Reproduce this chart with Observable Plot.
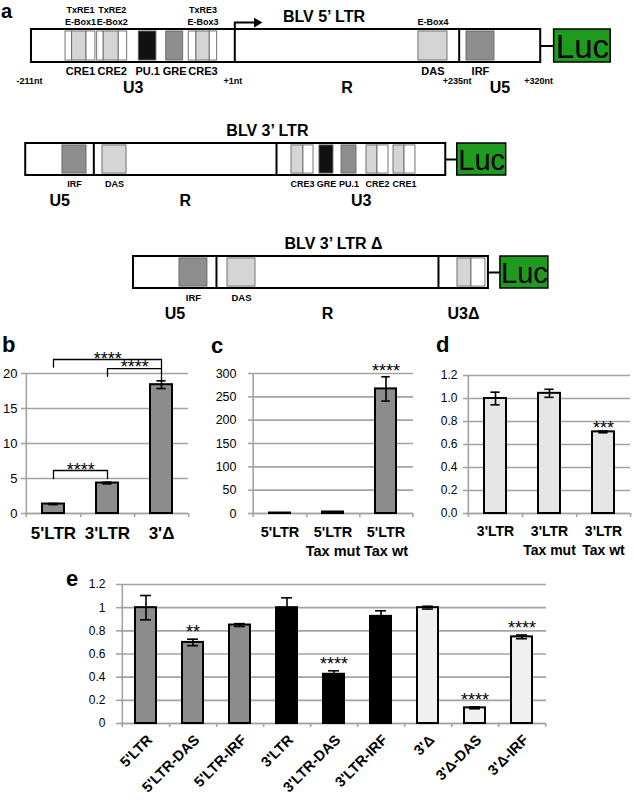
<!DOCTYPE html>
<html><head><meta charset="utf-8">
<script src="https://cdn.jsdelivr.net/npm/d3@7"></script>
<script src="https://cdn.jsdelivr.net/npm/@observablehq/plot@0.6"></script>
<style>
body{margin:0;background:#fff;}
#fig{position:relative;width:634px;height:800px;overflow:hidden;font-family:"Liberation Sans",Arial,Helvetica,sans-serif;}
.letter{position:absolute;font-weight:bold;line-height:normal;font-family:"Liberation Sans",Arial,Helvetica,sans-serif;}
</style></head><body><div id="fig"></div>
<script>
// ================= DATA =================
// Panel a: positions (nt) along each LTR construct
const ltr5Box = [-211, 320];
const ltr5Dividers = [1, 235];
const ltr5Elements = [
  {group:"CRE1", start:-175.5, end:-168.6, kind:"white"},
  {group:"CRE1", start:-168.6, end:-153.6, kind:"light"},
  {group:"CRE1", start:-153.6, end:-144.3, kind:"white"},
  {group:"CRE2", start:-142.5, end:-135.7, kind:"white"},
  {group:"CRE2", start:-135.7, end:-120.0, kind:"light"},
  {group:"CRE2", start:-120.0, end:-111.2, kind:"white"},
  {group:"PU.1", start:-99.1, end:-80.7, kind:"black"},
  {group:"GRE", start:-70.5, end:-52.8, kind:"dark"},
  {group:"CRE3", start:-47.0, end:-39.0, kind:"white"},
  {group:"CRE3", start:-39.0, end:-25.1, kind:"light"},
  {group:"CRE3", start:-25.1, end:-17.4, kind:"white"},
  {group:"DAS", start:192.5, end:222.8, kind:"light"},
  {group:"IRF", start:242.6, end:271.8, kind:"dark"}
];
const ltr5TopLabels = [
  {group:"CRE1", line1:"TxRE1", line2:"E-Box1"},
  {group:"CRE2", line1:"TxRE2", line2:"E-Box2"},
  {group:"CRE3", line1:"TxRE3", line2:"E-Box3"},
  {group:"DAS", line1:"", line2:"E-Box4"}
];
const ltr5Regions = [{name:"U3", start:-211, end:1}, {name:"R", start:1, end:235}, {name:"U5", start:235, end:320}];
const ltr5Coordinates = [{label:"-211nt", at:-211}, {label:"+1nt", at:1}, {label:"+235nt", at:235}, {label:"+320nt", at:320}];
const ltr5Luc = [334, 393];

const ltr3Box = [-217, 221];
const ltr3Dividers = [-146, 44.5];
const ltr3Elements = [
  {group:"IRF", start:-178.7, end:-153.6, kind:"dark"},
  {group:"DAS", start:-137.0, end:-111.9, kind:"light"},
  {group:"CRE3", start:60.1, end:72.6, kind:"light"},
  {group:"CRE3", start:72.6, end:83.1, kind:"white"},
  {group:"GRE", start:89.3, end:103.9, kind:"black"},
  {group:"PU.1", start:112.3, end:127.9, kind:"dark"},
  {group:"CRE2", start:138.3, end:149.8, kind:"light"},
  {group:"CRE2", start:149.8, end:161.3, kind:"white"},
  {group:"CRE1", start:166.5, end:178.0, kind:"light"},
  {group:"CRE1", start:178.0, end:189.4, kind:"white"}
];
const ltr3Regions = [{name:"U5", start:-217, end:-146}, {name:"R", start:-146, end:44.5}, {name:"U3", start:44.5, end:221}];
const ltr3Luc = [233, 284];

const ltrDBox = [-104.6, 265.5];
const ltrDDividers = [-18.1, 213.4];
const ltrDElements = [
  {group:"IRF", start:-56.7, end:-27.5, kind:"dark"},
  {group:"DAS", start:-6.6, end:22.6, kind:"light"},
  {group:"", start:233.2, end:247.8, kind:"light"},
  {group:"", start:247.8, end:262.4, kind:"white"}
];
const ltrDRegions = [{name:"U5", start:-104.6, end:-18.1}, {name:"R", start:-18.1, end:213.4}, {name:"U3Δ", start:213.4, end:265.5}];
const ltrDLuc = [278, 328];

const diagramTitles = ["BLV 5’ LTR", "BLV 3’ LTR", "BLV 3’ LTR Δ"];

// Panel b
const bCategories = ["5'LTR", "3'LTR", "3'Δ"];
const bValues = [1.35, 4.35, 18.4];
const bErrors = [0.08, 0.12, 0.55];
const bTicks = [0, 5, 10, 15, 20];
const bComparisons = [
  {from:"5'LTR", to:"3'Δ", stars:"****"},
  {from:"3'LTR", to:"3'Δ", stars:"****"},
  {from:"5'LTR", to:"3'LTR", stars:"****"}
];

// Panel c
const cCategories = ["5'LTR", "5'LTR\nTax mut", "5'LTR\nTax wt"];
const cValues = [1.0, 3.2, 267];
const cErrors = [0, 0, 26];
const cStars = ["", "", "****"];
const cTicks = [0, 50, 100, 150, 200, 250, 300];

// Panel d
const dCategories = ["3'LTR", "3'LTR\nTax mut", "3'LTR\nTax wt"];
const dValues = [1.0, 1.045, 0.71];
const dErrors = [0.055, 0.035, 0.008];
const dStars = ["", "", "***"];
const dTicks = [0, 0.2, 0.4, 0.6, 0.8, 1.0, 1.2];

// Panel e
const eCategories = ["5'LTR", "5'LTR-DAS", "5'LTR-IRF", "3'LTR", "3'LTR-DAS", "3'LTR-IRF", "3'Δ", "3'Δ-DAS", "3'Δ-IRF"];
const eGroups = ["5'LTR", "5'LTR", "5'LTR", "3'LTR", "3'LTR", "3'LTR", "3'Δ", "3'Δ", "3'Δ"];
const eValues = [1.0, 0.70, 0.85, 1.0, 0.425, 0.925, 1.0, 0.135, 0.748];
const eErrors = [0.105, 0.028, 0.012, 0.085, 0.03, 0.048, 0.012, 0.008, 0.016];
const eStars = ["", "**", "", "", "****", "", "", "****", "****"];
const eTicks = [0, 0.2, 0.4, 0.6, 0.8, 1, 1.2];

// ================= STYLE / LAYOUT =================
const FONT = '"Liberation Sans", Arial, Helvetica, sans-serif';
const kindFill = {white:"#ffffff", light:"#d5d5d5", dark:"#8e8e8e", black:"#111111"};
const groupFill = {"5'LTR":"#8c8c8c", "3'LTR":"#000000", "3'Δ":"#f0f0f0"};
const GRID = "#a3a3a3";
const fig = document.getElementById("fig");

function place(svg, left, top) {
  svg.style.position = "absolute";
  svg.style.left = left + "px";
  svg.style.top = top + "px";
  svg.style.overflow = "visible";
  svg.style.background = "transparent";
  svg.style.maxWidth = "none";
  fig.appendChild(svg);
}

// ----- Panel a diagrams -----
const X = {domain:[-243.3, 417.8], range:[0, 634], axis:null};
function diagram(o) {
  const centers = d3.rollups(o.elements.filter(e => e.group), v => (d3.min(v, d => d.start) + d3.max(v, d => d.end)) / 2, d => d.group)
    .map(([name, at]) => ({name, at}));
  const centerOf = new Map(centers.map(d => [d.name, d.at]));
  const marks = [
    Plot.ruleY([0.5], {x1: o.box[1], x2: o.luc[0], stroke:"black", strokeWidth:2}),
    Plot.rect([o.box], {x1: d => d[0], x2: d => d[1], y1: 0, y2: 1, fill:"white", stroke:"black", strokeWidth:2}),
    Plot.rect(o.elements, {x1:"start", x2:"end", y1:0.06, y2:0.94, fill: d => kindFill[d.kind], stroke:"#666", strokeWidth:0.9}),
    Plot.ruleX(o.dividers, {y1:0, y2:1, stroke:"black", strokeWidth:2}),
    Plot.rect([o.luc], {x1: d => d[0], x2: d => d[1], y1: 0, y2: 1, fill:"#1e9a1e", stroke:"black", strokeWidth:1.5}),
    Plot.text([o.luc], {x: d => (d[0] + d[1]) / 2, y: 0.5, text: () => "Luc", fontSize: o.lucSize, fontFamily: '"Liberation Sans Narrow","Arial Narrow",sans-serif', fill:"black", dy: 1}),
    Plot.text(centers, {x:"at", y:0, dy:9, text:"name", fontSize:o.labelSize, fontWeight:"bold"}),
    Plot.text(o.regions, {x: d => (d.start + d.end) / 2, y:0, dy:25, text:"name", fontSize:16, fontWeight:"bold"}),
    Plot.text([o.title], {x: () => o.titleAt, y: 1, dy: -13, text: d => d, fontSize:16, fontWeight:"bold"})
  ];
  if (o.topLabels) {
    marks.push(Plot.text(o.topLabels, {x: d => centerOf.get(d.group), y:1, dy:-19, text:"line1", fontSize:9, fontWeight:"bold"}));
    marks.push(Plot.text(o.topLabels, {x: d => centerOf.get(d.group), y:1, dy:-7, text:"line2", fontSize:9, fontWeight:"bold"}));
  }
  if (o.coords) {
    marks.push(Plot.text(o.coords, {x:"at", y:0, dy:19, dx:-2, text:"label", fontSize:9, fontWeight:"bold"}));
  }
  if (o.arrow) {
    const rise = 0.21;
    marks.push(Plot.line([{x:o.dividers[0], y:1}, {x:o.dividers[0], y:1 + rise}, {x:o.dividers[0] + 22, y:1 + rise}], {x:"x", y:"y", stroke:"black", strokeWidth:2}));
    marks.push(Plot.dot([{x:o.dividers[0] + 23, y:1 + rise}], {x:"x", y:"y", symbol:"triangle", rotate:90, r:3.6, fill:"black", stroke:"none"}));
  }
  const svg = Plot.plot({
    width:634, height:o.height,
    x: X, y: {domain:[0, 1], range:[o.boxBottom, o.boxTop], axis:null},
    color: {type:"identity"},
    style: {fontFamily: FONT, background:"transparent", overflow:"visible"},
    marks
  });
  place(svg, 0, o.top);
}

diagram({top:0, height:100, boxTop:29, boxBottom:62, box:ltr5Box, dividers:ltr5Dividers, elements:ltr5Elements,
  regions:ltr5Regions, luc:ltr5Luc, title:diagramTitles[0], titleAt:94, labelSize:11, lucSize:33,
  topLabels:ltr5TopLabels, coords:ltr5Coordinates, arrow:true});
diagram({top:100, height:110, boxTop:43, boxBottom:75, box:ltr3Box, dividers:ltr3Dividers, elements:ltr3Elements,
  regions:ltr3Regions, luc:ltr3Luc, title:diagramTitles[1], titleAt:35, labelSize:9, lucSize:29});
diagram({top:210, height:115, boxTop:46, boxBottom:78, box:ltrDBox, dividers:ltrDDividers, elements:ltrDElements,
  regions:ltrDRegions, luc:ltrDLuc, title:diagramTitles[2], titleAt:104, labelSize:9.5, lucSize:29});

// ----- Bar panels -----
function barPanel(o) {
  const n = o.cats.length;
  const plotW = o.width - o.marginLeft - o.marginRight;
  const plotH = o.height - o.marginTop - o.marginBottom;
  const step = plotW / n, bw = step * (1 - o.padding);
  const unit = (o.yDomain[1] - o.yDomain[0]) / plotH;
  const data = o.cats.map((cat, i) => ({cat, v:o.vals[i], e:o.errs[i], fill:o.fills[i], star:o.stars ? o.stars[i] : ""}));
  const capInset = (bw - o.cap) / 2;
  const withErr = data.filter(d => d.e > 0);
  const marks = [
    Plot.gridY(o.ticks, {stroke:GRID, strokeOpacity:1, strokeWidth:1.6}),
    Plot.ruleY([o.yDomain[0]], {stroke:GRID, strokeWidth:1.6}),
    Plot.ruleX([o.cats[0]], {dx:-step / 2, y1:o.yDomain[0], y2:o.yDomain[1], stroke:GRID, strokeWidth:1.6}),
    Plot.ruleX([o.cats[0]], {dx:-step / 2, y1:0, y2:-4 * unit, stroke:GRID, strokeWidth:1.6}),
    Plot.ruleX(o.cats, {dx:step / 2, y1:0, y2:-4 * unit, stroke:GRID, strokeWidth:1.6}),
    Plot.axisY(o.ticks, {label:null, tickSize:4, tickPadding:o.tickPad, tickFormat:o.fmt, fontSize:o.tickFont, stroke:GRID, strokeWidth:1.6, color:"black"}),
    Plot.barY(data, {x:"cat", y:"v", fill:"fill", stroke:"black", strokeWidth:2}),
    Plot.ruleX(withErr, {x:"cat", y1: d => d.v - d.e, y2: d => d.v + d.e, stroke:"black", strokeWidth:1.6}),
    Plot.tickY(withErr, {x:"cat", y: d => d.v + d.e, insetLeft:capInset, insetRight:capInset, stroke:"black", strokeWidth:1.6}),
    Plot.tickY(withErr, {x:"cat", y: d => d.v - d.e, insetLeft:capInset, insetRight:capInset, stroke:"black", strokeWidth:1.6}),
    Plot.text(data, {x:"cat", y: d => d.v + d.e, text:"star", dy:o.starDy, fontSize:18})
  ];
  if (o.rotate) {
    marks.push(Plot.text(data, {x:"cat", y:o.yDomain[0], text:"cat", rotate:-45, textAnchor:"end", lineAnchor:"middle", dx:4, dy:14, fontSize:o.labelFont, fontWeight:"bold"}));
  } else {
    marks.push(Plot.text(data, {x:"cat", y:o.yDomain[0], text:"cat", lineAnchor:"top", dy:o.labelDy, fontSize:o.labelFont, fontWeight:"bold", lineHeight:1.3}));
  }
  if (o.extra) marks.push(...o.extra(step, unit));
  const svg = Plot.plot({
    width:o.width, height:o.height,
    marginLeft:o.marginLeft, marginRight:o.marginRight, marginTop:o.marginTop, marginBottom:o.marginBottom,
    x: {type:"band", domain:o.cats, paddingInner:o.padding, paddingOuter:o.padding / 2, axis:null},
    y: {domain:o.yDomain, axis:null},
    color: {type:"identity"},
    style: {fontFamily: FONT, background:"transparent", overflow:"visible"},
    marks
  });
  place(svg, o.left, o.top);
}

// bracket geometry for panel b (levels in data units: left foot, bar, right foot, star offset px)
const bBracketLayout = [[20.9, 22.0, 20.7, -0.5], [19.6, 20.7, 19.1, -1.5], [5.0, 6.14, 5.0, -0.5]];

barPanel({left:0, top:330, width:200, height:215, marginLeft:25, marginRight:12, marginTop:43, marginBottom:32,
  cats:bCategories, vals:bValues, errs:bErrors, fills:bCategories.map(() => "#8c8c8c"),
  yDomain:[0, 20], ticks:bTicks, fmt: d => String(d), tickFont:13, tickPad:4, labelFont:17, labelDy:10,
  padding:0.6, cap:9, starDy:-5,
  extra: (step) => {
    const pts = [];
    bComparisons.forEach((c, k) => {
      const [lf, lv, rf] = bBracketLayout[k];
      pts.push({k, x:c.from, y:lf}, {k, x:c.from, y:lv}, {k, x:c.to, y:lv}, {k, x:c.to, y:rf});
    });
    const marks = [Plot.line(pts, {x:"x", y:"y", z:"k", stroke:"black", strokeWidth:1.3})];
    bComparisons.forEach((c, k) => {
      const span = bCategories.indexOf(c.to) - bCategories.indexOf(c.from);
      marks.push(Plot.text([c], {x:"from", y: () => bBracketLayout[k][1], dx: span * step / 2, dy: bBracketLayout[k][3], text:"stars", fontSize:18}));
    });
    return marks;
  }
});

barPanel({left:205, top:330, width:225, height:235, marginLeft:47, marginRight:17, marginTop:43, marginBottom:52,
  cats:cCategories, vals:cValues, errs:cErrors, fills:cCategories.map(() => "#8c8c8c"), stars:cStars,
  yDomain:[0, 300], ticks:cTicks, fmt: d => String(d), tickFont:12.5, tickPad:12, labelFont:14.5, labelDy:10,
  padding:0.6, cap:9, starDy:-5.5});

barPanel({left:420, top:330, width:214, height:235, marginLeft:47, marginRight:4, marginTop:45, marginBottom:52,
  cats:dCategories, vals:dValues, errs:dErrors, fills:dCategories.map(() => "#e6e6e6"), stars:dStars,
  yDomain:[0, 1.2], ticks:dTicks, fmt: d3.format(".1f"), tickFont:12, tickPad:6, labelFont:14, labelDy:10,
  padding:0.6, cap:9, starDy:-3});

barPanel({left:0, top:570, width:634, height:230, marginLeft:120, marginRight:88, marginTop:14, marginBottom:77,
  cats:eCategories, vals:eValues, errs:eErrors, fills:eGroups.map(g => groupFill[g]), stars:eStars,
  yDomain:[0, 1.2], ticks:eTicks, fmt: d => String(+d.toFixed(1)), tickFont:12, tickPad:11, labelFont:14.5, rotate:true,
  padding:0.555, cap:11, starDy:-6.5});

// ----- panel letters -----
[["a", 1, 0, 20], ["b", 2, 332, 22], ["c", 211, 333, 22], ["d", 436, 332, 22], ["e", 66, 566, 22]].forEach(([t, l, tp, fs]) => {
  const div = document.createElement("div");
  div.className = "letter";
  div.textContent = t;
  div.style.left = l + "px"; div.style.top = tp + "px"; div.style.fontSize = fs + "px";
  fig.appendChild(div);
});
</script></body></html>
